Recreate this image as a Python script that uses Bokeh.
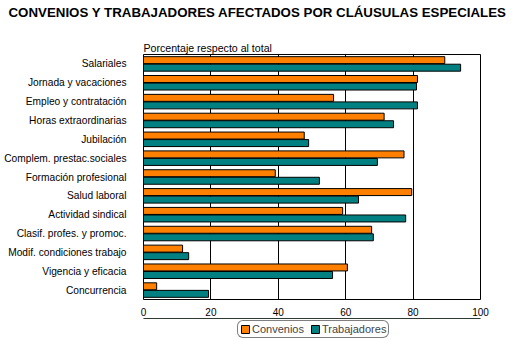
from bokeh.plotting import figure
from bokeh.layouts import column
from bokeh.models import FactorRange, Legend, LegendItem, FixedTicker, ColumnDataSource, Title
from bokeh.transform import dodge
from bokeh.embed import file_html
from bokeh.resources import INLINE

categories = ["Salariales", "Jornada y vacaciones", "Empleo y contratación", "Horas extraordinarias",
              "Jubilación", "Complem. prestac.sociales", "Formación profesional", "Salud laboral",
              "Actividad sindical", "Clasif. profes. y promoc.", "Modif. condiciones trabajo",
              "Vigencia y eficacia", "Concurrencia"]
convenios = [89.4, 81.3, 56.4, 71.4, 47.7, 77.3, 39.1, 79.6, 59.1, 67.7, 11.6, 60.5, 3.9]
trabajadores = [94.1, 81.0, 81.3, 74.2, 49.0, 69.4, 52.2, 63.8, 77.8, 68.2, 13.4, 56.1, 19.3]
x_ticks = [0, 20, 40, 60, 80, 100]
series_names = ["Convenios", "Trabajadores"]

FONT = "Liberation Sans"
ORANGE = "#FF8000"
TEAL = "#008080"


def blank_strip(h):
    f = figure(width=517, height=h, output_backend="svg", toolbar_location=None,
               x_range=(0, 1), y_range=(0, 1), min_border=0, min_border_left=143,
               min_border_right=37, title=None)
    f.axis.visible = False
    f.grid.grid_line_color = None
    f.outline_line_color = None
    f.background_fill_color = "white"
    f.border_fill_color = "white"
    return f


# title strip
p0 = blank_strip(24)
p0.add_layout(Title(text="CONVENIOS Y TRABAJADORES AFECTADOS POR CLÁUSULAS ESPECIALES",
                    text_font=FONT, text_font_size="13.3px", text_font_style="bold",
                    text_color="black", align="left", offset=-135, standoff=4), "above")

src = ColumnDataSource(dict(cat=categories, conv=convenios, trab=trabajadores))

p1 = figure(width=517, height=294, output_backend="svg", toolbar_location=None,
            y_range=FactorRange(*reversed(categories)), x_range=(0, 100),
            min_border_left=143, min_border_right=37, min_border_top=30, min_border_bottom=15,
            title=None)
p1.background_fill_color = "white"
p1.border_fill_color = "white"
p1.outline_line_color = "black"
p1.outline_line_width = 1

p1.hbar(y=dodge("cat", 0.2, range=p1.y_range), right="conv", left=0, height=0.37, source=src,
        fill_color=ORANGE, line_color="black", line_width=1)
p1.hbar(y=dodge("cat", -0.2, range=p1.y_range), right="trab", left=0, height=0.37, source=src,
        fill_color=TEAL, line_color="black", line_width=1)

p1.xaxis.ticker = FixedTicker(ticks=x_ticks)
p1.xgrid.ticker = FixedTicker(ticks=x_ticks)
p1.xgrid.grid_line_color = "black"
p1.xgrid.grid_line_alpha = 1
p1.ygrid.grid_line_color = None
for ax in (p1.xaxis, p1.yaxis):
    ax.axis_line_color = None
    ax.major_tick_line_color = None
    ax.minor_tick_line_color = None
    ax.major_label_text_font = FONT
    ax.major_label_text_color = "black"
p1.xaxis.major_label_text_font_size = "10px"
p1.yaxis.major_label_text_font_size = "10.2px"
p1.xaxis.major_label_standoff = 2
p1.yaxis.major_label_standoff = 11

p1.add_layout(Title(text="Porcentaje respecto al total", text_font=FONT, text_font_size="10.6px",
                    text_font_style="normal", text_color="black", align="left", offset=0,
                    standoff=1), "above")

# legend strip
p2 = blank_strip(22)
leg_src = ColumnDataSource(dict(y=[5], r=[5]))
g1 = p2.hbar(y="y", right="r", height=0.5, source=leg_src, fill_color=ORANGE, line_color="black")
g2 = p2.hbar(y="y", right="r", height=0.5, source=leg_src, fill_color=TEAL, line_color="black")

legend = Legend(items=[LegendItem(label=series_names[0], renderers=[g1]),
                       LegendItem(label=series_names[1], renderers=[g2])],
                orientation="horizontal", location=(94, 2))
legend.label_text_font = FONT
legend.label_text_font_size = "11px"
legend.glyph_width = 10
legend.glyph_height = 10
legend.label_standoff = 2
legend.spacing = 6
legend.padding = 2
legend.margin = 0
legend.label_height = 10
legend.border_line_color = "black"
legend.border_line_width = 1
legend.border_radius = 6
legend.background_fill_alpha = 1
p2.add_layout(legend, "center")

layout = column(p0, p1, p2, spacing=0)
open("out.html", "w").write(file_html(layout, INLINE))
